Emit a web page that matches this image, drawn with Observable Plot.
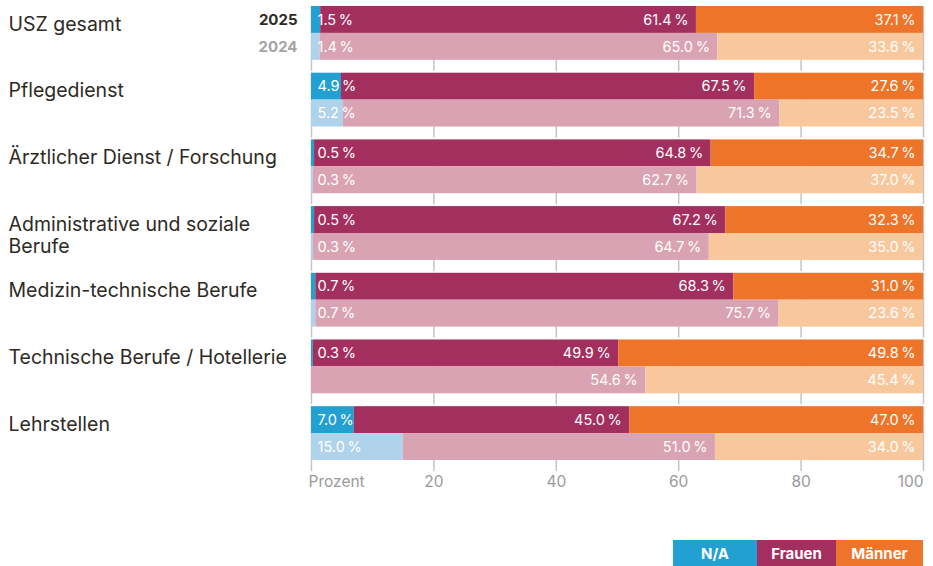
<!DOCTYPE html>
<html>
<head>
<meta charset="utf-8">
<script src="https://cdn.jsdelivr.net/npm/d3@7"></script>
<script src="https://cdn.jsdelivr.net/npm/@observablehq/plot@0.6"></script>
<style>
  body { margin: 0; background: #fff; font-family: Inter, "Noto Sans", sans-serif; }
  #legend { display: flex; justify-content: flex-end; margin-right: 10px; margin-top: 40px; height: 26px; }
  #legend div { color: #fff; font-weight: 700; font-size: 15px; display: flex; align-items: center; justify-content: center; height: 26px; }
</style>
</head>
<body>
<div id="chart"></div>
<div id="legend"></div>
<script>
const categories = ["USZ gesamt", "Pflegedienst", "Ärztlicher Dienst / Forschung", "Administrative und soziale Berufe", "Medizin-technische Berufe", "Technische Berufe / Hotellerie", "Lehrstellen"];
const years = ["2025", "2024"];
const seriesKeys = ["N/A", "Frauen", "Männer"];
const na2025 = [1.5, 4.9, 0.5, 0.5, 0.7, 0.3, 7.0];
const frauen2025 = [61.4, 67.5, 64.8, 67.2, 68.3, 49.9, 45.0];
const maenner2025 = [37.1, 27.6, 34.7, 32.3, 31.0, 49.8, 47.0];
const na2024 = [1.4, 5.2, 0.3, 0.3, 0.7, 0, 15.0];
const frauen2024 = [65.0, 71.3, 62.7, 64.7, 75.7, 54.6, 51.0];
const maenner2024 = [33.6, 23.5, 37.0, 35.0, 23.6, 45.4, 34.0];
const xTicks = [0, 20, 40, 60, 80, 100];

const values = {
  "2025": [na2025, frauen2025, maenner2025],
  "2024": [na2024, frauen2024, maenner2024]
};

// Build a long table; the last segment (Männer) fills the remaining share up to 100 %.
const rows = [];
categories.forEach((cat, i) => {
  years.forEach(year => {
    let acc = 0;
    seriesKeys.forEach((key, k) => {
      const v = values[year][k][i];
      const last = k === seriesKeys.length - 1;
      rows.push({cat, year, key, value: v, x1: acc, x2: last ? 100 : acc + v, color: key + " " + year});
      acc += v;
    });
  });
});

const colorDomain = ["N/A 2025", "Frauen 2025", "Männer 2025", "N/A 2024", "Frauen 2024", "Männer 2024"];
const colorRange = ["#22a0d1", "#a32f5e", "#ee742a", "#aed3ea", "#d9a3b3", "#f9c79c"];

const fmt = v => v.toFixed(1) + "\u202F%";
const font = "Inter, 'Noto Sans', sans-serif";

const chart = Plot.plot({
  width: 933,
  height: 500,
  marginTop: 6,
  marginBottom: 40,
  marginLeft: 311,
  marginRight: 10,
  style: {fontFamily: font, background: "#fff"},
  x: {domain: [0, 100], axis: null},
  y: {domain: years, paddingInner: 0, paddingOuter: 0, round: false, axis: null},
  fy: {domain: categories, paddingInner: 0.193, paddingOuter: 0, round: false, axis: null},
  color: {domain: colorDomain, range: colorRange},
  marks: [
    Plot.ruleX(xTicks, {x: d => d, stroke: "#c4c4c4", strokeWidth: 1.5, insetBottom: -11}),
    Plot.barX(rows.filter(d => d.value > 0), {x1: "x1", x2: "x2", y: "year", fy: "cat", fill: "color", inset: 0}),
    Plot.text(rows.filter(d => d.key === "N/A" && d.value > 0), {
      x: "x1", y: "year", fy: "cat", text: d => fmt(d.value), textAnchor: "start", dx: 6,
      fill: "#fff", fontSize: 14.5
    }),
    Plot.text(rows.filter(d => d.key !== "N/A"), {
      x: "x2", y: "year", fy: "cat", text: d => fmt(d.value), textAnchor: "end", dx: -8,
      fill: "#fff", fontSize: 14.5
    }),
    Plot.text(categories, {
      fy: d => d, y: () => "2025", text: d => d, frameAnchor: "left", textAnchor: "start",
      lineAnchor: "top", dy: -5, dx: -303, lineWidth: 15.5, lineHeight: 1.13,
      fill: "#2e2a1f", fontSize: 19.5
    }),
    Plot.text(years, {
      fy: () => categories[0], y: d => d, text: d => d, frameAnchor: "left", textAnchor: "end",
      dx: -14, fontWeight: 700, fontSize: 15, fill: d => d === "2025" ? "#2e2a1f" : "#a3a3a3"
    }),
    Plot.text(xTicks.filter(t => t > 0 && t < 100), {
      x: d => d, text: d => String(d), frameAnchor: "bottom", dy: 26, facetAnchor: "bottom",
      fill: "#9a9a9a", fontSize: 15.5
    }),
    Plot.text([100], {
      x: d => d, text: d => String(d), frameAnchor: "bottom", dy: 26, dx: 0, textAnchor: "end", facetAnchor: "bottom",
      fill: "#9a9a9a", fontSize: 15.5
    }),
    Plot.text(["Prozent"], {
      x: () => 0, text: d => d, frameAnchor: "bottom", dy: 26, dx: -3, textAnchor: "start", facetAnchor: "bottom",
      fill: "#9a9a9a", fontSize: 15.5
    })
  ]
});
document.getElementById("chart").appendChild(chart);

const legendWidths = [84, 79, 87];
const legend = document.getElementById("legend");
seriesKeys.forEach((k, i) => {
  const el = document.createElement("div");
  el.textContent = k;
  el.style.background = colorRange[i];
  el.style.width = legendWidths[i] + "px";
  legend.appendChild(el);
});
</script>
</body>
</html>
